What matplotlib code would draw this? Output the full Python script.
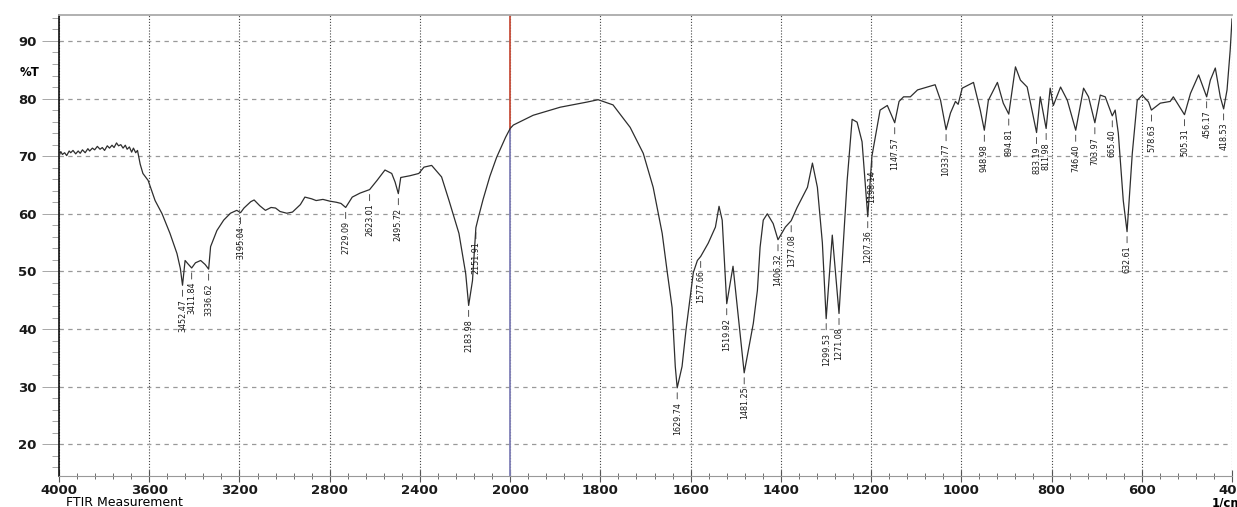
import numpy as np
from matplotlib import pyplot as plt
from matplotlib import ticker

# noisy plateau at the high wavenumber end
plateau_wn = [4000, 3992, 3985, 3975, 3966, 3955, 3948, 3938, 3926, 3915,
              3906, 3896, 3884, 3872, 3864, 3852, 3842, 3830, 3818, 3808,
              3798, 3786, 3776, 3765, 3756, 3745, 3736, 3726, 3716, 3706,
              3698, 3688, 3678, 3670, 3660, 3652]
plateau_t = [70.0, 70.8, 70.3, 70.6, 70.1, 70.9, 70.6, 71.0, 70.4, 70.9,
             70.5, 71.1, 70.6, 71.3, 70.9, 71.4, 71.1, 71.7, 71.2, 71.5,
             71.0, 71.8, 71.4, 71.9, 71.5, 72.3, 71.8, 72.0, 71.4, 71.9,
             71.2, 71.6, 70.7, 71.4, 70.6, 71.0]

# rest of the trace, wavenumber (1/cm) against transmittance (%T)
trace_wn = [3640, 3628, 3605, 3574,
            3543, 3508, 3477, 3462, 3441, 3428, 3395, 3372, 3352, 3328,
            3300, 3270, 3240, 3212, 3180, 3150, 3135, 3110, 3085, 3060,
            3040, 3020, 2990, 2965, 2930, 2910, 2880, 2860, 2830, 2800,
            2770, 2750, 2700, 2665, 2590, 2555, 2525, 2510, 2485, 2445,
            2405, 2382, 2348, 2304, 2271, 2227, 2197, 2167, 2158, 2140,
            2120, 2090, 2060, 2043, 2020, 2000, 1993, 1949, 1889, 1829,
            1805, 1772, 1734, 1705, 1683, 1663, 1652, 1641, 1634, 1619,
            1610, 1601, 1594, 1585, 1561, 1545, 1537, 1530, 1506, 1461,
            1452, 1446, 1439, 1430, 1417, 1390, 1364, 1341, 1330, 1319,
            1308, 1286, 1253, 1242, 1231, 1220, 1180, 1164, 1138, 1128,
            1113, 1097, 1075, 1058, 1046, 1024, 1013, 1007, 998, 973,
            958, 940, 920, 907, 880, 869, 854, 825, 803, 796,
            780, 765, 729, 718, 692, 681, 659, 652, 641, 621,
            610, 599, 585, 559, 537, 530, 492, 474, 448, 437,
            426, 411, 404, 400]
trace_t = [68.6, 67.0, 65.8, 62.3,
           60.0, 56.6, 53.1, 50.5, 51.9, 51.3, 51.5, 51.9, 51.2, 54.3,
           57.1, 58.9, 60.1, 60.6, 61.0, 62.1, 62.4, 61.4, 60.6, 61.1,
           61.0, 60.4, 60.1, 60.3, 61.6, 62.9, 62.6, 62.3, 62.5, 62.2,
           62.0, 61.8, 62.9, 63.6, 65.8, 67.6, 67.0, 65.5, 66.3, 66.6,
           67.0, 68.1, 68.4, 66.4, 62.3, 56.6, 49.6, 48.4, 54.0, 59.5,
           62.5, 66.5, 69.8, 71.3, 73.3, 74.8, 75.4, 77.1, 78.5, 79.4,
           79.8, 78.9, 75.0, 70.5, 64.6, 56.6, 50.0, 43.7, 33.5, 33.5,
           40.0, 45.5, 49.8, 51.9, 54.9, 57.7, 61.3, 58.9, 50.9, 41.0,
           46.7, 54.2, 58.9, 60.0, 58.3, 57.7, 61.1, 64.6, 68.8, 64.6,
           55.0, 56.3, 65.8, 76.4, 75.9, 72.5, 78.0, 78.8, 79.5, 80.3,
           80.3, 81.5, 82.0, 82.4, 79.7, 77.5, 79.5, 79.0, 81.8, 82.8,
           78.0, 79.7, 82.8, 79.2, 85.5, 83.2, 82.0, 80.3, 81.8, 78.8,
           82.0, 79.7, 81.8, 80.3, 80.6, 80.3, 78.0, 74.0, 62.3, 70.5,
           79.7, 80.6, 79.4, 79.2, 79.5, 80.3, 80.9, 84.1, 83.2, 85.3,
           80.3, 81.5, 88.4, 93.8]

# labelled bands (band minimum)
peak_wn = [3452.47, 3411.84, 3336.62, 3195.04, 2729.09, 2623.01, 2495.72,
           2183.98, 2151.91, 1629.74, 1577.66, 1519.92, 1481.25, 1406.32,
           1377.08, 1299.53, 1271.08, 1207.36, 1198.14, 1147.57, 1033.77,
           948.98, 894.81, 833.19, 811.98, 746.40, 703.97, 665.40, 632.61,
           578.63, 505.31, 456.17, 418.53]
peak_t = [47.6, 50.6, 50.4, 60.2, 61.1, 64.2, 63.5,
          44.1, 57.6, 29.8, 52.6, 44.4, 32.4, 55.5,
          58.8, 41.8, 42.7, 59.5, 70.0, 75.8, 74.6,
          74.5, 77.3, 74.1, 74.8, 74.5, 75.8, 77.0, 56.9,
          78.0, 77.2, 80.3, 78.2]

major_wn = [4000, 3600, 3200, 2800, 2400, 2000, 1800, 1600, 1400, 1200,
            1000, 800, 600, 400]
y_ticks = [20, 30, 40, 50, 60, 70, 80, 90]


def fwd(x):
    # above 2000 1/cm the axis runs at half scale
    x = np.asarray(x, dtype=float)
    return np.where(x > 2000, 2000 + (x - 2000) / 2.0, x)


def inv(u):
    u = np.asarray(u, dtype=float)
    return np.where(u > 2000, 2000 + (u - 2000) * 2.0, u)


wn = np.array(plateau_wn + trace_wn + peak_wn, dtype=float)
t = np.array(plateau_t + trace_t + peak_t, dtype=float)
order = np.argsort(-wn)
wn, t = wn[order], t[order]

fig = plt.figure(figsize=(12.37, 5.07), dpi=100)
ax = fig.add_axes([59 / 1237, 31 / 507, 1173 / 1237, 461 / 507])
ax.set_xscale('function', functions=(fwd, inv))
ax.set_xlim(4000, 400)
ax.set_ylim(14.5, 94.5)

ax.plot(wn, t, color='#2e2e2e', lw=0.9, zorder=3)

# the 2000 1/cm scale change marker
ax.axvline(2000, ymin=0.75, ymax=1.0, color='#c8503c', lw=1.3, zorder=2)
ax.axvline(2000, ymin=0.0, ymax=0.75, color='#8080b8', lw=1.3, zorder=2)

minor_wn = [w for w in range(3920, 2000, -80) if w not in major_wn]
minor_wn += [w for w in range(1960, 400, -40) if w not in major_wn]
ax.xaxis.set_major_locator(ticker.FixedLocator(major_wn))
ax.xaxis.set_minor_locator(ticker.FixedLocator(minor_wn))
ax.xaxis.set_major_formatter(ticker.FormatStrFormatter('%d'))
ax.yaxis.set_major_locator(ticker.FixedLocator(y_ticks))
ax.yaxis.set_minor_locator(ticker.MultipleLocator(2))
ax.yaxis.set_major_formatter(ticker.FormatStrFormatter('%d'))

ax.tick_params(axis='x', which='major', direction='inout', length=9, width=0.8,
               color='#555555', labelsize=9.5, pad=1.5)
ax.tick_params(axis='x', which='minor', direction='inout', length=4, width=0.6,
               color='#555555')
ax.tick_params(axis='y', which='major', direction='out', length=12, width=0.6,
               color='#999999', labelsize=9.5, pad=4)
ax.tick_params(axis='y', which='minor', direction='out', length=5, width=0.6,
               color='#999999')
for lbl in ax.get_xticklabels() + ax.get_yticklabels():
    lbl.set_fontweight('bold')
    lbl.set_color('#1a1a1a')

ax.grid(True, axis='x', which='major', ls=(0, (1, 1.6)), color='#444444', lw=0.8)
ax.grid(True, axis='y', which='major', ls=(0, (3.5, 3.5)), color='#999999', lw=0.9)

ax.spines['right'].set_visible(False)
ax.spines['top'].set_color('#aaaaaa')
ax.spines['top'].set_linewidth(1.3)
ax.spines['bottom'].set_color('#999999')
ax.spines['left'].set_color('#111111')
ax.spines['left'].set_linewidth(1.2)

for w, v in zip(peak_wn, peak_t):
    ax.annotate('%.2f' % w, xy=(w, v), xytext=(0, -10), textcoords='offset points',
                rotation=90, ha='center', va='top', fontsize=5.8, color='#1a1a1a',
                arrowprops=dict(arrowstyle='-', color='#333333', lw=0.6,
                                shrinkA=0, shrinkB=3.5))

fig.text(20 / 1237, 1 - 72 / 507, '%T', fontsize=8.5, fontweight='bold', va='center')
fig.text(66 / 1237, 1 - 496 / 507, 'FTIR Measurement', fontsize=9, va='top')
fig.text(1212 / 1237, 1 - 496 / 507, '1/cm', fontsize=8.5, fontweight='bold', va='top')

fig.savefig('out.png', dpi=100)
